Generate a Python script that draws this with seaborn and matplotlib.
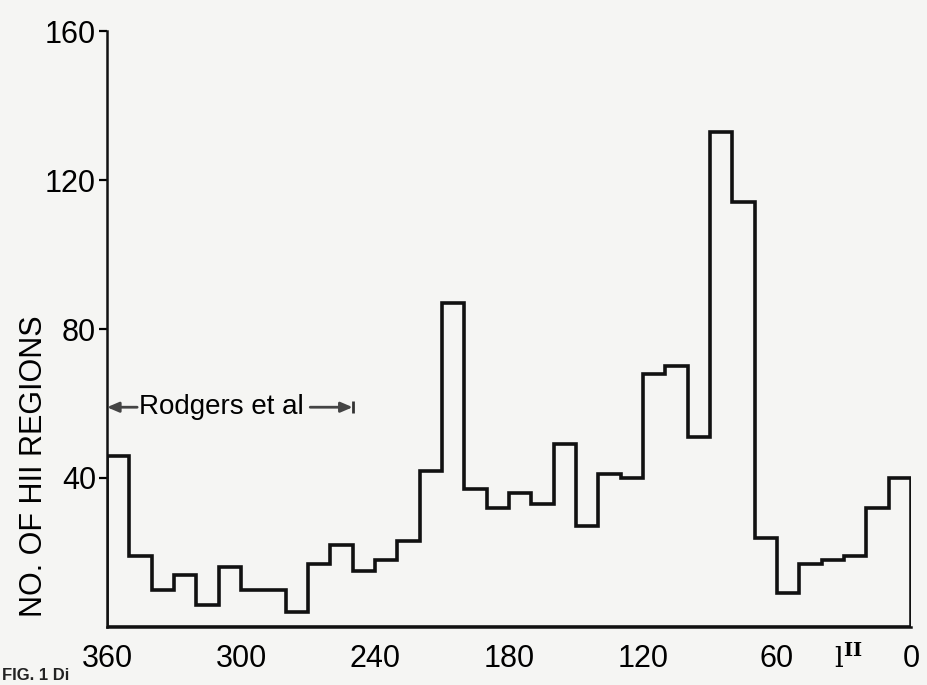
import matplotlib
matplotlib.use("Agg")
import matplotlib.pyplot as plt
from matplotlib.ticker import MultipleLocator
import numpy as np
import pandas as pd
import seaborn as sns

# Galactic longitude bins (10 degrees wide), listed from l = 360 down to l = 0
bin_upper = [360, 350, 340, 330, 320, 310, 300, 290, 280, 270, 260, 250,
             240, 230, 220, 210, 200, 190, 180, 170, 160, 150, 140, 130,
             120, 110, 100, 90, 80, 70, 60, 50, 40, 30, 20, 10]
counts = [46, 19, 10, 14, 6, 16, 10, 10, 4, 17, 22, 15,
          18, 23, 42, 87, 37, 32, 36, 33, 49, 27, 41, 40,
          68, 70, 51, 133, 114, 24, 9, 17, 18, 19, 32, 40]
bin_width = 10

x_ticks = [360, 300, 240, 180, 120, 60, 0]
y_ticks = [40, 80, 120, 160]

# Survey coverage bracket
rodgers_y = 59
rodgers_from = 360
rodgers_to = 250
rodgers_label = "Rodgers et al"

df = pd.DataFrame({"lon": [u - bin_width / 2 for u in bin_upper], "n": counts})
edges = sorted(set(bin_upper + [u - bin_width for u in bin_upper]))

sns.set_style("white")
plt.rcParams["font.family"] = ["Liberation Sans", "DejaVu Sans"]
plt.rcParams["text.color"] = "black"
plt.rcParams["axes.labelcolor"] = "black"
plt.rcParams["xtick.color"] = "black"
plt.rcParams["ytick.color"] = "black"
paper = "#f5f5f3"

fig = plt.figure(figsize=(9.28, 6.85), dpi=100, facecolor=paper)
ax = fig.add_axes([0.1153, 0.0847, 0.8664, 0.87])
ax.set_facecolor(paper)

sns.histplot(data=df, x="lon", weights="n", bins=edges, element="step",
             fill=True, color="black", facecolor="none", edgecolor="#111111",
             linewidth=2.6, joinstyle="miter", ax=ax)

ax.set_xlim(360, 0)
ax.set_ylim(0, 160)

for s in ["top", "right"]:
    ax.spines[s].set_visible(False)
for s in ["left", "bottom"]:
    ax.spines[s].set_linewidth(1.8)
    ax.spines[s].set_color("#111111")

ax.set_xticks(x_ticks)
ax.set_xticklabels([str(t) for t in x_ticks], fontsize=22)
ax.xaxis.set_minor_locator(MultipleLocator(bin_width))
ax.tick_params(axis="x", which="major", direction="inout", length=14, width=1.6,
               pad=5)
ax.tick_params(axis="x", which="minor", direction="in", length=6, width=1.6)

ax.set_yticks(y_ticks)
ax.set_yticklabels([str(t) for t in y_ticks], fontsize=22)
ax.tick_params(axis="y", which="major", direction="out", length=6, width=1.6,
               pad=2, left=True)

ax.set_xlabel("")
ax.set_ylabel("NO. OF HII REGIONS", fontsize=22)
ax.yaxis.set_label_coords(-0.072, 0.27)

# Longitude axis symbol
ax.text(28, -0.055, r"$\mathrm{l}^{\mathbf{II}}$", transform=ax.get_xaxis_transform(),
        ha="center", va="center", fontsize=20, math_fontfamily="dejavuserif")

# Coverage bracket with arrows
ax.annotate("", xy=(rodgers_from, rodgers_y), xytext=(346.5, rodgers_y),
            arrowprops=dict(arrowstyle="-|>,head_length=0.7,head_width=0.3",
                            color="#444444", lw=2, shrinkA=0, shrinkB=0))
ax.text(345.5, rodgers_y, rodgers_label, ha="left", va="center", fontsize=20)
ax.annotate("", xy=(rodgers_to, rodgers_y), xytext=(269, rodgers_y),
            arrowprops=dict(arrowstyle="-|>,head_length=0.7,head_width=0.3",
                            color="#444444", lw=2, shrinkA=0, shrinkB=0))
ax.plot([rodgers_to], [rodgers_y], marker="|", markersize=9, mew=2, color="#333333")

# Caption at the lower edge
fig.text(0.002, 0.003, "FIG. 1 Di", ha="left", va="bottom", fontsize=12,
         fontweight="bold", color="#222222")

fig.savefig("out.png", dpi=100, facecolor=paper)
